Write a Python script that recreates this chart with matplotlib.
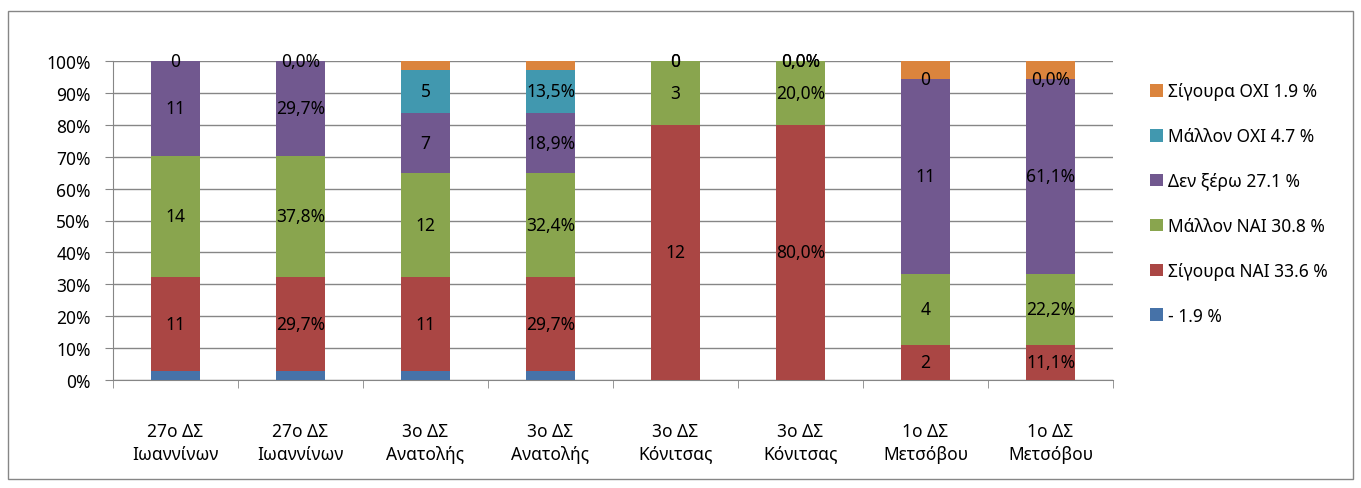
import numpy as np
import matplotlib.pyplot as plt
from matplotlib.patches import Patch, Rectangle

plt.rcParams['font.family'] = ['Noto Sans', 'DejaVu Sans']

districts = ['27ο ΔΣ\nΙωαννίνων', '3ο ΔΣ\nΑνατολής', '3ο ΔΣ\nΚόνιτσας', '1ο ΔΣ\nΜετσόβου']
series = ['-', 'Σίγουρα ΝΑΙ', 'Μάλλον ΝΑΙ', 'Δεν ξέρω', 'Μάλλον ΟΧΙ', 'Σίγουρα ΟΧΙ']
legend_labels = ['- 1.9 %', 'Σίγουρα ΝΑΙ 33.6 %', 'Μάλλον ΝΑΙ 30.8 %',
                 'Δεν ξέρω 27.1 %', 'Μάλλον ΟΧΙ 4.7 %', 'Σίγουρα ΟΧΙ 1.9 %']
colors = ['#4672A8', '#AA4644', '#89A54E', '#71588F', '#4198AF', '#DB843D']

# counts per series for each district
counts_dash = [1, 1, 0, 0]
counts_sig_nai = [11, 11, 12, 2]
counts_mal_nai = [14, 12, 3, 4]
counts_den = [11, 7, 0, 11]
counts_mal_oxi = [0, 5, 0, 0]
counts_sig_oxi = [0, 1, 0, 1]

# percentages per series for each district
pct_dash = [2.7, 2.7, 0.0, 0.0]
pct_sig_nai = [29.7, 29.7, 80.0, 11.1]
pct_mal_nai = [37.8, 32.4, 20.0, 22.2]
pct_den = [29.7, 18.9, 0.0, 61.1]
pct_mal_oxi = [0.0, 13.5, 0.0, 0.0]
pct_sig_oxi = [0.0, 2.7, 0.0, 5.6]

counts = np.array([counts_dash, counts_sig_nai, counts_mal_nai,
                   counts_den, counts_mal_oxi, counts_sig_oxi], dtype=float)
pcts = np.array([pct_dash, pct_sig_nai, pct_mal_nai,
                 pct_den, pct_mal_oxi, pct_sig_oxi], dtype=float)

# interleave: count bar, percent bar for each district
bar_vals = np.zeros((len(series), 2 * len(districts)))
bar_vals[:, 0::2] = counts
bar_vals[:, 1::2] = pcts
bar_labels = []
for j in range(2 * len(districts)):
    if j % 2 == 0:
        bar_labels.append(['%d' % v for v in bar_vals[:, j]])
    else:
        bar_labels.append([('%.1f%%' % v).replace('.', ',') for v in bar_vals[:, j]])
cats = [d for d in districts for _ in range(2)]
heights = bar_vals / bar_vals.sum(axis=0)

fig = plt.figure(figsize=(13.61, 4.89), dpi=100)
ax = fig.add_axes([113 / 1361, 1 - 381 / 489, 1000 / 1361, 319 / 489])
fig.patches.append(Rectangle((8 / 1361, 1 - 480 / 489), 1345 / 1361, 468 / 489,
                             transform=fig.transFigure, fill=False,
                             edgecolor='#868686', lw=1))

fs = 12.5
x = np.arange(len(cats))
bottom = np.zeros(len(cats))
for i in range(len(series)):
    ax.bar(x, heights[i], 0.39, bottom=bottom, color=colors[i], zorder=3)
    if 1 <= i <= 4:
        for j in range(len(cats)):
            ax.text(x[j], bottom[j] + heights[i][j] / 2, bar_labels[j][i],
                    ha='center', va='center', fontsize=fs, zorder=4)
    bottom += heights[i]

ax.set_xlim(-0.5, len(cats) - 0.5)
ax.set_ylim(0, 1)
ax.set_yticks(np.arange(0, 1.01, 0.1))
ax.set_yticklabels(['%d%%' % v for v in range(0, 101, 10)], fontsize=fs)
ax.yaxis.grid(True, color='#868686', lw=1, zorder=0)
ax.set_xticks(x)
ax.set_xticklabels(cats, fontsize=fs, linespacing=1.35)
ax.set_xticks(np.arange(-0.5, len(cats)), minor=True)
ax.tick_params(axis='x', which='major', length=0, pad=30)
ax.tick_params(axis='x', which='minor', length=6, color='#868686')
ax.tick_params(axis='y', length=6, color='#868686', pad=10)
for s in ['top', 'right']:
    ax.spines[s].set_visible(False)
for s in ['left', 'bottom']:
    ax.spines[s].set_color('#868686')

handles = [Patch(facecolor=colors[i]) for i in range(len(series))][::-1]
ax.legend(handles, legend_labels[::-1], loc='upper left',
          bbox_to_anchor=(1.03, 0.955), frameon=False, fontsize=fs,
          handlelength=0.75, handleheight=0.75, handletextpad=0.3,
          labelspacing=1.55, borderaxespad=0)

fig.savefig('out.png', dpi=100)
